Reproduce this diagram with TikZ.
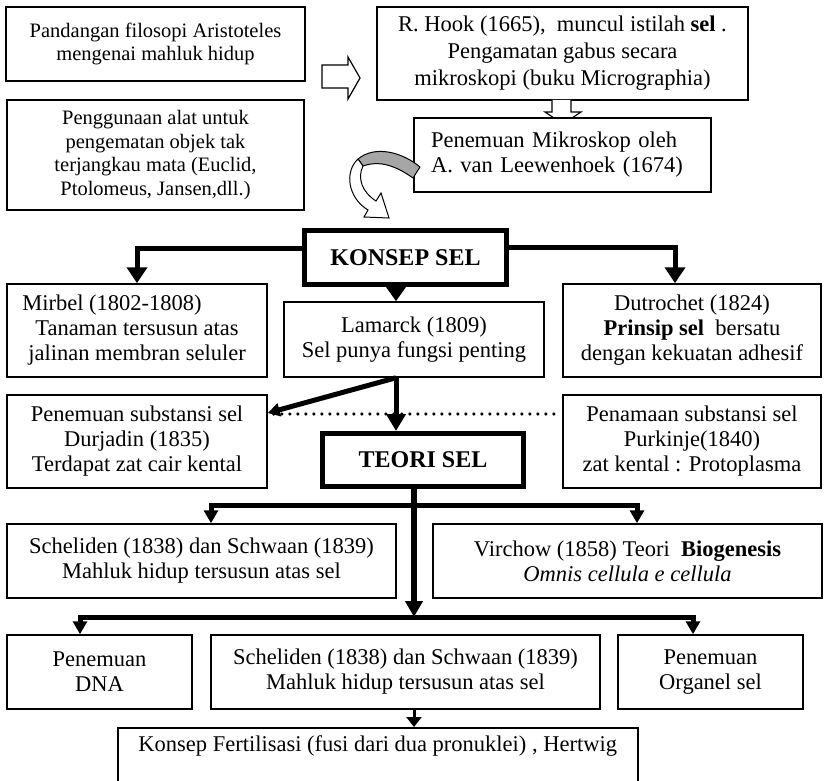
\documentclass[tikz,border=0pt]{standalone}
\usepackage{fontspec}
\setmainfont{Liberation Serif}
\usetikzlibrary{arrows.meta,calc}
\tikzset{
  box/.style={draw, line width=1.5pt, fill=white, align=center, inner sep=0pt, font=\fontsize{22.5}{25}\selectfont},
  smallbox/.style={box, font=\fontsize{20.5}{22.5}\selectfont},
  thickbox/.style={draw, line width=5pt, fill=white, align=center, inner sep=0pt, font=\fontsize{24}{28}\selectfont\bfseries},
  bigarr/.style={line width=5pt, -{Triangle[length=16pt,width=20pt]}},
  midarr/.style={line width=5pt, -{Triangle[length=13pt,width=14pt]}},
  dotline/.style={line width=3.5pt, line cap=round, dash pattern=on 0pt off 8pt},
  blockarr/.style={line width=1.2pt, fill=white, line join=miter},
}
\begin{document}
\begin{tikzpicture}[x=1pt,y=-1pt]
\useasboundingbox (0,0) rectangle (824,781);
\clip (0,0) rectangle (824,781);
\fill[white] (0,0) rectangle (824,781);

% top row
\node[smallbox, minimum width=299pt, minimum height=74pt] (arist) at (155.5,44) {Pandangan filosopi Aristoteles\\mengenai mahluk hidup};
\node[smallbox, font=\fontsize{20.5}{23.5}\selectfont, minimum width=297pt, minimum height=110pt] (alat) at (155.5,155) {Penggunaan alat untuk\\pengematan objek tak\\terjangkau mata (Euclid,\\Ptolomeus, Jansen,dll.)};
\node[box, font=\fontsize{22.5}{27}\selectfont, minimum width=371pt, minimum height=93pt] (hook) at (562.5,53.5) {R. Hook (1665), \ muncul istilah \textbf{sel} .\\Pengamatan gabus secara\\mikroskopi (buku Micrographia)};

% hollow block arrows
\draw[blockarr] (322,65) -- (348,65) -- (348,57) -- (360,78) -- (348,99) -- (348,88) -- (322,88) -- cycle;
\draw[blockarr] (552,100) -- (552,112) -- (545,112) -- (563,124) -- (581,112) -- (571,112) -- (571,100);

\node[box, minimum width=297pt, minimum height=74pt, text width=263pt, align=left] (leeu) at (562.5,155) {Penemuan Mikroskop oleh\\A. van Leewenhoek (1674)};

% curved arrow
\draw[line width=1pt, fill=gray!70, line join=round] (420,167) .. controls (402,152) and (375,145) .. (358,159) -- (363,166) .. controls (380,160) and (396,166) .. (413,178) -- cycle;
\draw[line width=1pt, fill=white, line join=miter] (358,159) .. controls (344,172) and (348,198) .. (368,210) -- (364,217) -- (389,218) -- (381,193) -- (376,201) .. controls (362,192) and (357,178) .. (363,166) -- cycle;

% konsep
\node[thickbox, minimum width=202pt, minimum height=54pt] (konsep) at (405.5,257.5) {KONSEP SEL};

\node[box, minimum width=260pt, minimum height=93pt] (mirbel) at (137,330.5) {Mirbel (1802-1808)\hspace*{50pt}\\Tanaman tersusun atas\\jalinan membran seluler};
\node[box, minimum width=260pt, minimum height=75pt] (lamarck) at (414,339.5) {Lamarck (1809)\\Sel punya fungsi penting};
\node[box, minimum width=258pt, minimum height=93pt] (dutrochet) at (692,330.5) {Dutrochet (1824)\\\textbf{Prinsip sel} \ bersatu\\dengan kekuatan adhesif};

\node[box, minimum width=260pt, minimum height=93pt] (durjadin) at (137,441.5) {Penemuan substansi sel\\Durjadin (1835)\\Terdapat zat cair kental};
\node[box, minimum width=258pt, minimum height=93pt] (purkinje) at (692,441.5) {Penamaan substansi sel\\Purkinje(1840)\\zat kental : Protoplasma};

\node[thickbox, minimum width=201pt, minimum height=53pt] (teori) at (423,460) {TEORI SEL};

\node[box, minimum width=389pt, minimum height=74pt] (sch1) at (201.5,561) {Scheliden (1838) dan Schwaan (1839)\\Mahluk hidup tersusun atas sel};
\node[box, minimum width=389pt, minimum height=74pt] (virchow) at (627.5,561) {Virchow (1858) Teori \ \textbf{Biogenesis}\\\textit{Omnis cellula e cellula}};

\node[box, minimum width=185pt, minimum height=74pt] (dna) at (99.5,672) {Penemuan\\DNA};
\node[box, minimum width=389pt, minimum height=74pt] (sch2) at (405.5,672) {Scheliden (1838) dan Schwaan (1839)\\Mahluk hidup tersusun atas sel};
\node[box, minimum width=185pt, minimum height=74pt] (organel) at (710.5,672) {Penemuan\\Organel sel};

\node[box, anchor=north west, inner sep=8pt, minimum width=520pt] (fert) at (117,727) {\parbox[t][70pt][t]{500pt}{\centering Konsep Fertilisasi (fusi dari dua pronuklei) , Hertwig}};

% connectors
\coordinate (kx) at (396,0);
\coordinate (tx) at (414,0);
\coordinate (j1) at (414,505);
\coordinate (j2) at (414,617);

\draw[bigarr] ([yshift=9.5pt]konsep.west) -| (mirbel.north);
\draw[bigarr] ([yshift=10pt]konsep.east) -| ([xshift=-17pt]dutrochet.north);
\draw[line width=5pt, -{Triangle[length=15pt,width=20pt]}] (konsep.south -| kx) -- (lamarck.north -| kx);
\draw[bigarr, -{Triangle[length=17pt,width=19pt]}] (lamarck.south -| kx) -- (teori.north -| kx);
\draw[line width=5pt, -{Triangle[length=12pt,width=13pt]}] (lamarck.south -| kx) -- ([yshift=28.5pt]durjadin.east);
\draw[dotline] ([yshift=27.5pt,xshift=6pt]durjadin.east) -- ([yshift=27.5pt,xshift=-8pt]purkinje.west);

\draw[line width=6pt, -{Triangle[length=16pt,width=17pt]}] (teori.south -| tx) -- (j2);
\draw[midarr] (j1) -| ([xshift=9.5pt]sch1.north);
\draw[midarr] (j1) -| ([xshift=9.5pt]virchow.north);
\draw[midarr] (j2) -| ([xshift=-19.5pt]dna.north);
\draw[midarr] (j2) -| ([xshift=-17.5pt]organel.north);
\draw[line width=3pt, -{Triangle[length=10pt,width=15pt]}] (sch2.south -| tx) -- (fert.north -| tx);
\end{tikzpicture}
\end{document}
